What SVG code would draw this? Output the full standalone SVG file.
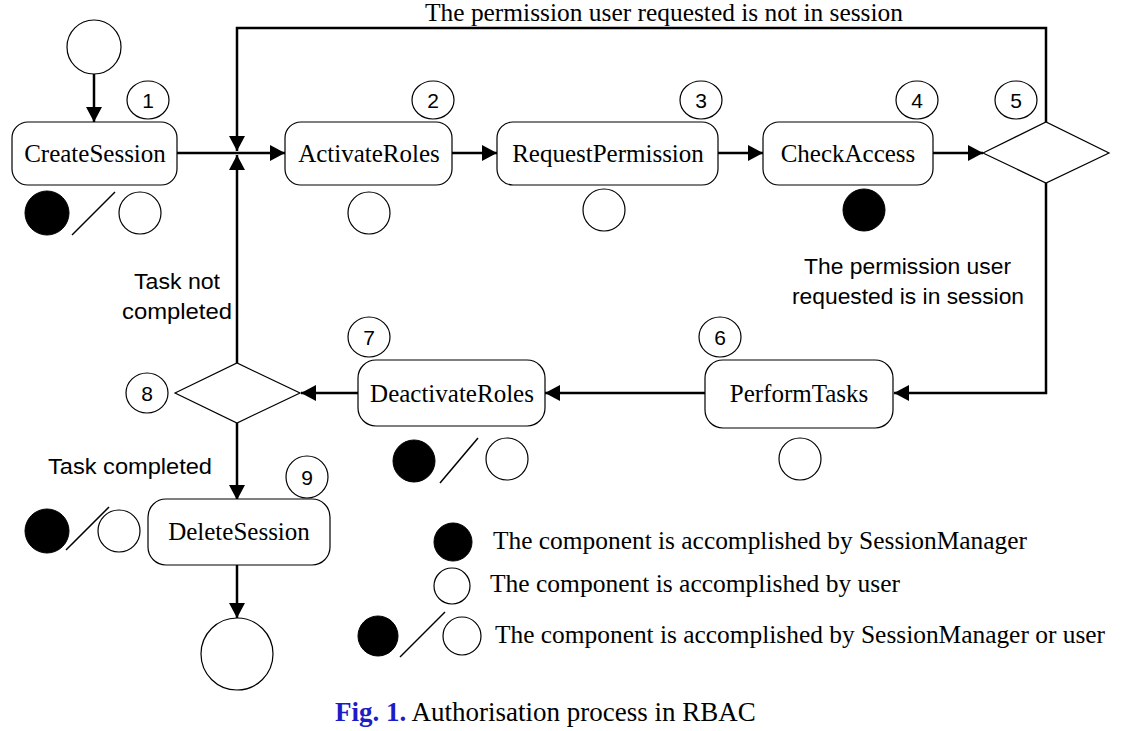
<svg xmlns="http://www.w3.org/2000/svg" width="1128" height="731" viewBox="0 0 1128 731">
<defs>
<marker id="ah" markerUnits="userSpaceOnUse" markerWidth="16" markerHeight="16" refX="15" refY="8" orient="auto">
<path d="M0,0 L15,8 L0,16 z" fill="#000"/>
</marker>
<style>
.box{fill:#fff;stroke:#000;stroke-width:1.2}
.st{fill:#fff;stroke:#000;stroke-width:1.2}
.blk{fill:#000;stroke:#000;stroke-width:1}
.sl{stroke:#000;stroke-width:1.5}
.con{fill:none;stroke:#000;stroke-width:2.5;marker-end:url(#ah)}
.lbl{font-family:"Liberation Serif","Times New Roman",serif;font-size:25px;text-anchor:middle;fill:#000}
.num{font-family:"Liberation Sans",Arial,sans-serif;font-size:21px;text-anchor:middle;fill:#000}
.san{font-family:"Liberation Sans",Arial,sans-serif;font-size:22px;fill:#000}
.leg{font-family:"Liberation Serif","Times New Roman",serif;font-size:25px;fill:#000}
</style>
</defs>
<rect width="1128" height="731" fill="#fff"/>

<g id="connectors">
<path class="con" d="M94,74 V122"/>
<path class="con" d="M177,153 H285"/>
<path class="con" d="M452,153 H497"/>
<path class="con" d="M718,153 H763"/>
<path class="con" d="M933,153 H983"/>
<path class="con" d="M1046,122 V28 H237 V151"/>
<path class="con" d="M1046,183 V393 H894"/>
<path class="con" d="M705,393 H545"/>
<path class="con" d="M358,393 H301"/>
<path class="con" d="M237,363 V155"/>
<path class="con" d="M237,423 V500"/>
<path class="con" d="M237,565 V618"/>
</g>

<g id="start"><circle class="st" cx="94" cy="47" r="27"/></g>

<g id="n1">
<rect class="box" x="12" y="122" width="165" height="63" rx="16"/>
<text class="lbl" x="95" y="162">CreateSession</text>
<ellipse class="st" cx="148" cy="100" rx="21" ry="19"/>
<text class="num" x="148" y="108">1</text>
<circle class="blk" cx="47" cy="213" r="22"/>
<line class="sl" x1="72" y1="235" x2="115" y2="192"/>
<circle class="st" cx="140" cy="213" r="21"/>
</g>

<g id="n2">
<rect class="box" x="285" y="122" width="167" height="63" rx="16"/>
<text class="lbl" x="369" y="162">ActivateRoles</text>
<ellipse class="st" cx="433" cy="100" rx="21" ry="19"/>
<text class="num" x="433" y="108">2</text>
<circle class="st" cx="369" cy="213" r="21"/>
</g>

<g id="n3">
<rect class="box" x="497" y="122" width="221" height="63" rx="16"/>
<text class="lbl" x="608" y="162">RequestPermission</text>
<ellipse class="st" cx="701" cy="100" rx="21" ry="19"/>
<text class="num" x="701" y="108">3</text>
<circle class="st" cx="604" cy="210" r="21"/>
</g>

<g id="n4">
<rect class="box" x="763" y="122" width="170" height="63" rx="16"/>
<text class="lbl" x="848" y="162">CheckAccess</text>
<ellipse class="st" cx="917" cy="100" rx="21" ry="19"/>
<text class="num" x="917" y="108">4</text>
<circle class="blk" cx="864" cy="210" r="21"/>
</g>

<g id="n5">
<polygon class="st" points="983,153 1046,122 1109,153 1046,183"/>
<ellipse class="st" cx="1016" cy="100" rx="21" ry="19"/>
<text class="num" x="1016" y="108">5</text>
</g>

<g id="n6">
<rect class="box" x="705" y="360" width="188" height="68" rx="18"/>
<text class="lbl" x="799" y="402">PerformTasks</text>
<ellipse class="st" cx="720" cy="337" rx="21" ry="20"/>
<text class="num" x="720" y="345">6</text>
<circle class="st" cx="800" cy="459" r="21"/>
</g>

<g id="n7">
<rect class="box" x="358" y="360" width="187" height="66" rx="18"/>
<text class="lbl" x="452" y="402">DeactivateRoles</text>
<ellipse class="st" cx="369" cy="337" rx="21" ry="20"/>
<text class="num" x="369" y="345">7</text>
<circle class="blk" cx="414" cy="461" r="21"/>
<line class="sl" x1="440" y1="483" x2="478" y2="438"/>
<circle class="st" cx="507" cy="459" r="21"/>
</g>

<g id="n8">
<polygon class="st" points="175,393 237,363 300,393 237,423"/>
<ellipse class="st" cx="147" cy="393" rx="21" ry="20"/>
<text class="num" x="147" y="401">8</text>
</g>

<g id="n9">
<rect class="box" x="148" y="499" width="182" height="66" rx="18"/>
<text class="lbl" x="239" y="540">DeleteSession</text>
<ellipse class="st" cx="307" cy="477" rx="21" ry="21"/>
<text class="num" x="307" y="485">9</text>
<circle class="blk" cx="47" cy="531" r="22"/>
<line class="sl" x1="66" y1="550" x2="109" y2="507"/>
<circle class="st" cx="119" cy="531" r="21"/>
</g>

<g id="end"><circle class="st" cx="237" cy="654" r="36"/></g>

<g id="labels">
<text class="lbl" x="664" y="21" textLength="478" lengthAdjust="spacingAndGlyphs">The permission user requested is not in session</text>
<text class="san" x="804" y="274" textLength="207" lengthAdjust="spacingAndGlyphs">The permission user</text>
<text class="san" x="792" y="304" textLength="232" lengthAdjust="spacingAndGlyphs">requested is in session</text>
<text class="san" x="134" y="289" textLength="86" lengthAdjust="spacingAndGlyphs">Task not</text>
<text class="san" x="122" y="319" textLength="110" lengthAdjust="spacingAndGlyphs">completed</text>
<text class="san" x="48" y="474" textLength="164" lengthAdjust="spacingAndGlyphs">Task completed</text>
</g>

<g id="legend">
<circle class="blk" cx="453" cy="542" r="19"/>
<text class="leg" x="493" y="549" textLength="534" lengthAdjust="spacingAndGlyphs">The component is accomplished by SessionManager</text>
<circle class="st" cx="452" cy="586" r="18"/>
<text class="leg" x="490" y="592" textLength="410" lengthAdjust="spacingAndGlyphs">The component is accomplished by user</text>
<circle class="blk" cx="378" cy="636" r="20"/>
<line class="sl" x1="400" y1="657" x2="445" y2="612"/>
<circle class="st" cx="462" cy="636" r="19"/>
<text class="leg" x="495" y="643" textLength="610" lengthAdjust="spacingAndGlyphs">The component is accomplished by SessionManager or user</text>
</g>

<g id="caption">
<text x="335" y="721" font-family="Liberation Serif, Times New Roman, serif" font-size="27px"><tspan font-weight="bold" fill="#1c1cc8">Fig. 1.</tspan><tspan fill="#000"> Authorisation process in RBAC</tspan></text>
</g>
</svg>
